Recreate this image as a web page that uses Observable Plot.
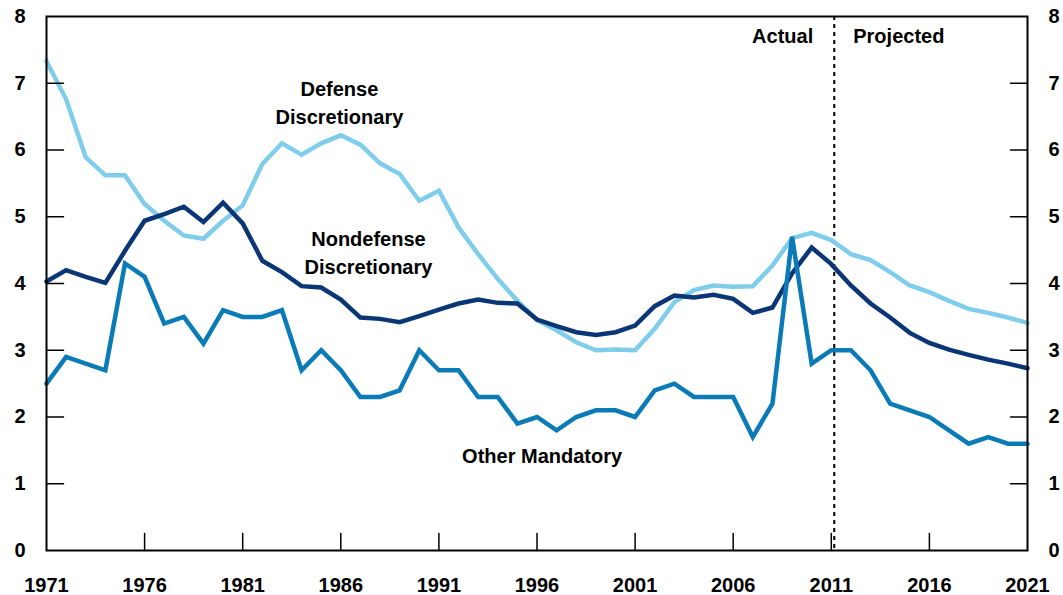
<!DOCTYPE html>
<html><head><meta charset="utf-8">
<script src="https://cdn.jsdelivr.net/npm/d3@7"></script>
<script src="https://cdn.jsdelivr.net/npm/@observablehq/plot@0.6"></script>
<style>body{margin:0;background:#fff;} #chart svg{display:block}</style>
</head><body><div id="chart"></div>
<script>
const years = d3.range(1971, 2022);
const defenseDiscretionary = [7.33,6.76,5.89,5.62,5.62,5.19,4.94,4.72,4.67,4.94,5.17,5.79,6.10,5.93,6.10,6.22,6.08,5.80,5.64,5.24,5.39,4.84,4.44,4.07,3.74,3.45,3.30,3.12,3.00,3.01,3.00,3.32,3.72,3.90,3.97,3.95,3.96,4.27,4.68,4.76,4.65,4.44,4.35,4.17,3.97,3.87,3.74,3.62,3.56,3.49,3.41];
const nondefenseDiscretionary = [4.03,4.20,4.10,4.01,4.49,4.94,5.04,5.15,4.92,5.21,4.90,4.34,4.17,3.96,3.94,3.76,3.49,3.47,3.42,3.51,3.61,3.70,3.76,3.71,3.70,3.46,3.36,3.27,3.23,3.27,3.37,3.66,3.82,3.79,3.83,3.77,3.56,3.64,4.15,4.54,4.29,3.97,3.70,3.49,3.26,3.11,3.01,2.93,2.86,2.80,2.73];
const otherMandatory = [2.5,2.9,2.8,2.7,4.3,4.1,3.4,3.5,3.1,3.6,3.5,3.5,3.6,2.7,3.0,2.7,2.3,2.3,2.4,3.0,2.7,2.7,2.3,2.3,1.9,2.0,1.8,2.0,2.1,2.1,2.0,2.4,2.5,2.3,2.3,2.3,1.7,2.2,4.7,2.8,3.0,3.0,2.7,2.2,2.1,2.0,1.8,1.6,1.7,1.6,1.6];
const seriesNames = ["Defense Discretionary", "Nondefense Discretionary", "Other Mandatory"];
const seriesColors = ["#7fcdeb", "#0b3675", "#0a7bb7"];
const xTicks = [1971,1976,1981,1986,1991,1996,2001,2006,2011,2016,2021];
const yTicks = [0,1,2,3,4,5,6,7,8];
const projectionStart = 2011.15;

const seriesValues = [defenseDiscretionary, nondefenseDiscretionary, otherMandatory];
const rows = seriesValues.flatMap((vals, s) => years.map((yr, i) => ({year: yr, value: vals[i], series: seriesNames[s]})));

const annotations = [
  {label: "Defense\nDiscretionary", year: 1985.93, value: 6.74},
  {label: "Nondefense\nDiscretionary", year: 1987.41, value: 4.49},
  {label: "Other Mandatory", year: 1996.26, value: 1.45}
];
const periodLabelY = 7.7;

const tickShape = {draw(ctx, l) { ctx.moveTo(0, 0); ctx.lineTo(0, -l); }};
const font = "'Liberation Sans', Arial, sans-serif";
const textStyle = {fontSize: 20, fontWeight: "bold", fill: "black"};

const chart = Plot.plot({
  width: 1063,
  height: 595,
  marginLeft: 46,
  marginRight: 36,
  marginTop: 16,
  marginBottom: 45,
  style: {fontFamily: font, fontSize: "20px", color: "black", background: "white"},
  x: {domain: [1971, 2021]},
  y: {domain: [0, 8]},
  color: {domain: seriesNames, range: seriesColors},
  marks: [
    Plot.ruleX([projectionStart], {stroke: "black", strokeWidth: 2, strokeDasharray: "4,4"}),
    Plot.line(rows, {x: "year", y: "value", z: "series", stroke: "series", strokeWidth: 4.5, strokeLinejoin: "miter", strokeMiterlimit: 3}),
    Plot.vector(yTicks.slice(1, -1), {y: d => d, frameAnchor: "left", rotate: 90, length: 17, anchor: "start", shape: tickShape, stroke: "black", strokeWidth: 1.5}),
    Plot.vector(yTicks.slice(1, -1), {y: d => d, frameAnchor: "right", rotate: -90, length: 17, anchor: "start", shape: tickShape, stroke: "black", strokeWidth: 1.5}),
    Plot.vector(xTicks.slice(1, -1), {x: d => d, frameAnchor: "bottom", rotate: 0, length: 17, anchor: "start", shape: tickShape, stroke: "black", strokeWidth: 1.5}),
    Plot.axisY(yTicks, {anchor: "left", tickSize: 0, tickPadding: 21, fontSize: 20, fontWeight: "bold", label: null, tickFormat: d => String(d)}),
    Plot.axisY(yTicks, {anchor: "right", tickSize: 0, tickPadding: 21, fontSize: 20, fontWeight: "bold", label: null, tickFormat: d => String(d)}),
    Plot.axisX(xTicks, {anchor: "bottom", tickSize: 0, tickPadding: 27, fontSize: 20, fontWeight: "bold", label: null, tickFormat: d => String(d)}),
    Plot.frame({stroke: "black", strokeWidth: 2}),
    Plot.text(annotations, {x: "year", y: "value", text: "label", lineHeight: 1.4, ...textStyle}),
    Plot.text(["Actual"], {x: () => projectionStart, y: () => periodLabelY, text: d => d, textAnchor: "end", dx: -21, ...textStyle}),
    Plot.text(["Projected"], {x: () => projectionStart, y: () => periodLabelY, text: d => d, textAnchor: "start", dx: 19, ...textStyle})
  ]
});
document.getElementById("chart").appendChild(chart);
</script>
</body></html>
